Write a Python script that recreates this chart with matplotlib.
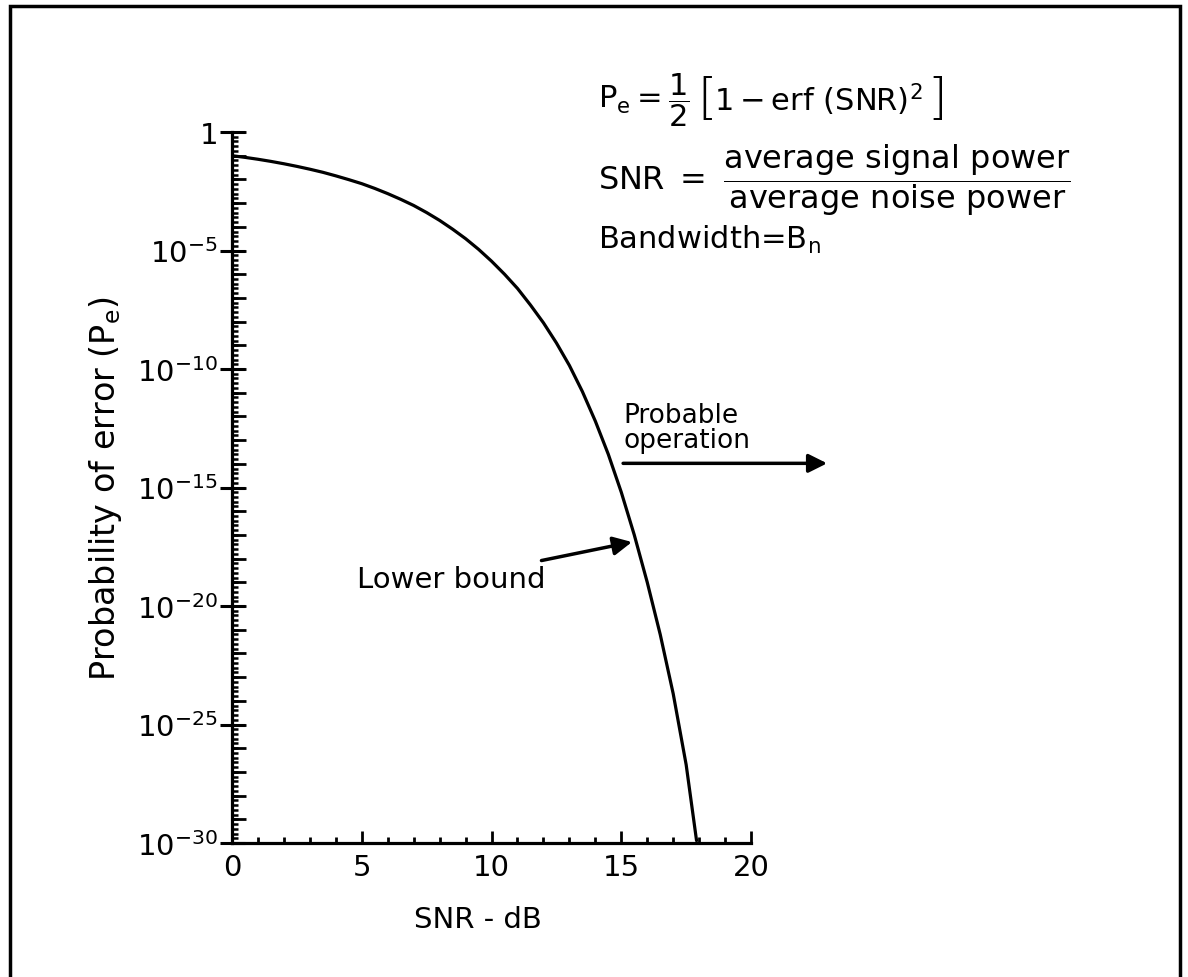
import numpy as np
import matplotlib.pyplot as plt
from matplotlib.patches import Rectangle
from matplotlib.ticker import FixedLocator, NullFormatter, NullLocator

plt.rcParams['font.family'] = 'DejaVu Sans'
plt.rcParams['mathtext.fontset'] = 'dejavusans'
plt.rcParams['mathtext.default'] = 'regular'

# lower-bound curve: SNR in dB vs log10 of error probability
snr_db = [0, 0.5, 1, 1.5, 2, 2.5, 3, 3.5, 4, 4.5, 5, 5.5, 6, 6.5, 7, 7.5, 8, 8.5,
          9, 9.5, 10, 10.5, 11, 11.5, 12, 12.5, 13, 13.5, 14, 14.5, 15, 15.5,
          16, 16.5, 17, 17.5, 17.9]
log_pe = [-1.0, -1.07, -1.15, -1.24, -1.34, -1.45, -1.57, -1.7, -1.85, -2.01,
          -2.18, -2.38, -2.6, -2.84, -3.1, -3.4, -3.73, -4.1, -4.5, -4.95,
          -5.45, -6.0, -6.6, -7.3, -8.05, -8.9, -9.85, -10.95, -12.2, -13.6,
          -15.2, -17.0, -19.0, -21.2, -23.7, -26.7, -29.9]

x_ticks = [0, 5, 10, 15, 20]
y_exps = [0, -5, -10, -15, -20, -25, -30]
y_tick_labels = ['1', '$10^{-5}$', '$10^{-10}$', '$10^{-15}$', '$10^{-20}$',
                 '$10^{-25}$', '$10^{-30}$']

pe = 10.0 ** np.array(log_pe)

fig = plt.figure(figsize=(11.88, 9.78), dpi=100)
ax = fig.add_axes([0.1953, 0.137, 0.4369, 0.727])

ax.plot(snr_db, pe, color='black', lw=2.3, solid_capstyle='round',
        solid_joinstyle='round')
ax.set_yscale('log')
ax.set_xlim(0, 20)
ax.set_ylim(1e-30, 1)

ax.set_xticks(x_ticks)
ax.set_xticklabels([str(v) for v in x_ticks])
ax.xaxis.set_minor_locator(FixedLocator(np.arange(0, 21, 1)))
ax.set_yticks([10.0 ** e for e in y_exps])
ax.set_yticklabels(y_tick_labels)
ax.yaxis.set_minor_locator(FixedLocator(10.0 ** np.arange(-30, 0.01, 0.2)))
ax.yaxis.set_minor_formatter(NullFormatter())

ax.tick_params(axis='x', which='major', direction='in', length=9, width=2,
               labelsize=21, pad=7)
ax.tick_params(axis='x', which='minor', direction='in', length=4.5, width=2)
ax.tick_params(axis='y', which='major', direction='inout', length=18, width=2.2,
               labelsize=21, pad=1)
ax.tick_params(axis='y', which='minor', direction='in', length=4.5, width=1.8)

# longer ticks at every decade
sec = ax.secondary_yaxis('left')
sec.set_yticks([10.0 ** e for e in range(-30, 1)])
sec.yaxis.set_minor_locator(NullLocator())
sec.tick_params(direction='in', length=10, width=2, labelleft=False)
sec.spines['left'].set_visible(False)

for side in ['top', 'right']:
    ax.spines[side].set_visible(False)
for side in ['left', 'bottom']:
    ax.spines[side].set_linewidth(2.3)

ax.set_ylabel('Probability of error (P$_e$)', fontsize=24)
ax.yaxis.set_label_coords(-0.208, 0.5)
fig.text(478 / 1188, 1 - 920 / 978, 'SNR - dB', ha='center', va='center', fontsize=21)

# formulas in the upper right
W, H = 1188, 978
fig.text(598 / W, 1 - 100 / H, r'$P_e = \dfrac{1}{2}$', fontsize=22, va='center')
fig.text(697 / W, 1 - 100 / H, '[', fontsize=36, fontweight='light', va='center')
fig.text(714 / W, 1 - 100 / H, r'$1 - erf\ (SNR)^2$', fontsize=22, va='center')
fig.text(927 / W, 1 - 100 / H, ']', fontsize=36, fontweight='light', va='center')
fig.text(598 / W, 1 - 180 / H,
         r'$SNR\ =\ \dfrac{average\ signal\ power}{average\ noise\ power}$',
         fontsize=23, va='center')
fig.text(598 / W, 1 - 240 / H, 'Bandwidth=B$_n$', fontsize=22, va='center')

# annotations
ax.text(15.07, 10 ** -12.45, 'Probable\noperation', fontsize=19, ha='left',
        va='center', linespacing=0.95)
ax.annotate('', xy=(22.93, 10 ** -13.98), xytext=(15.07, 10 ** -13.98),
            arrowprops=dict(arrowstyle='-|>', color='black', lw=2.5,
                            mutation_scale=28, shrinkA=0, shrinkB=0),
            annotation_clip=False)
ax.annotate('Lower bound', xy=(15.41, 10 ** -17.3), xytext=(4.82, 10 ** -18.86),
            ha='left', va='center', fontsize=21,
            arrowprops=dict(arrowstyle='-|>', color='black', lw=2.5,
                            mutation_scale=28, shrinkA=6, shrinkB=0))

# open-bottomed frame around the figure
fig.add_artist(Rectangle((10 / W, -0.1), 1170 / W, 1.1 - 7 / H,
                         transform=fig.transFigure, fill=False, lw=2.5,
                         ec='black'))

fig.savefig('out.png', dpi=100)
